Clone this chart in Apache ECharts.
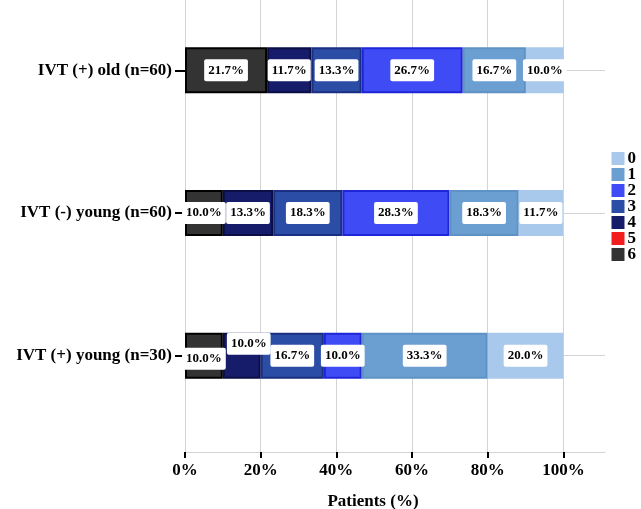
<!DOCTYPE html>
<html>
<head>
<meta charset="utf-8">
<script src="https://cdn.jsdelivr.net/npm/echarts@6/dist/echarts.min.js"></script>
<style>
	html, body { margin: 0; padding: 0; background: #fff; }
	#main { width: 641px; height: 509px; }
</style>
</head>
<body>
<div id="main"></div>
<script>
// categories from bottom to top (category axis draws first item at the bottom)
const groups = ['IVT (+) young (n=30)', 'IVT (-) young (n=60)', 'IVT (+) old (n=60)']
const levels = ['0', '1', '2', '3', '4', '5', '6']
const xTicks = [0, 20, 40, 60, 80, 100]

// percent of patients per score, same order as groups
const score6 = [10.0, 10.0, 21.7]
const score5 = [0, 0, 0]
const score4 = [10.0, 13.3, 11.7]
const score3 = [16.7, 18.3, 13.3]
const score2 = [10.0, 28.3, 26.7]
const score1 = [33.3, 18.3, 16.7]
const score0 = [20.0, 11.7, 10.0]

const fill = {
	'0': '#a9c9ec',
	'1': '#6c9fd1',
	'2': '#3f4cf6',
	'3': '#2c4da6',
	'4': '#161c6a',
	'5': '#f21d1d',
	'6': '#333333'
}
const edge = {
	'0': '#a9c9ec',
	'1': '#5f92c4',
	'2': '#1f26d8',
	'3': '#1b2f82',
	'4': '#0a0e45',
	'5': '#c01010',
	'6': '#000000'
}

const serif = 'Liberation Serif'

function makeSeries(name, values) {
	return {
		name: name,
		type: 'bar',
		stack: 'total',
		barWidth: 46,
		xAxisIndex: 0,
		yAxisIndex: 0,
		itemStyle: {
			color: fill[name],
			borderColor: edge[name],
			borderWidth: name === '5' ? 0 : 2
		},
		label: {
			show: name !== '5',
			position: 'inside',
			formatter: function (p) {
				return p.value ? p.value.toFixed(1) + '%' : ''
			},
			color: '#000',
			fontFamily: serif,
			fontWeight: 'bold',
			fontSize: 13,
			backgroundColor: '#fff',
			borderRadius: 2,
			padding: [5, 4, 4, 4]
		},
		data: values.slice()
	}
}

const series = [
	makeSeries('6', score6),
	makeSeries('5', score5),
	makeSeries('4', score4),
	makeSeries('3', score3),
	makeSeries('2', score2),
	makeSeries('1', score1),
	makeSeries('0', score0)
]
// small label in (+) young row sits a bit higher, as in the figure
series[2].data[0] = { value: score4[0], label: { offset: [7, -12] } }
series[0].data[0] = { value: score6[0], label: { offset: [0, 3] } }

const chart = echarts.init(document.getElementById('main'), null, { renderer: 'canvas' })

const option = {
	animation: false,
	backgroundColor: '#fff',
	legend: {
		data: levels,
		orient: 'vertical',
		right: 0,
		top: 145,
		itemWidth: 13,
		itemHeight: 13,
		itemGap: -1,
		icon: 'rect',
		itemStyle: { borderWidth: 0 },
		textStyle: {
			fontFamily: serif,
			fontWeight: 'bold',
			fontSize: 17,
			color: '#000',
			padding: [0, 0, 0, -2]
		}
	},
	grid: [{
		left: 185,
		right: 36,
		top: -1,
		height: 428,
		outerBoundsMode: 'none'
	}, {
		left: 185,
		right: 36,
		top: 0,
		bottom: 57,
		outerBoundsMode: 'none'
	}],
	xAxis: [{
		type: 'value',
		gridIndex: 0,
		min: 0,
		max: 111,
		show: false
	}, {
		type: 'value',
		gridIndex: 1,
		min: 0,
		max: 111,
		name: 'Patients (%)',
		nameLocation: 'middle',
		nameGap: 41,
		nameTextStyle: {
			fontFamily: serif,
			fontWeight: 'bold',
			fontSize: 17,
			color: '#000',
			padding: [0, 44, 0, 0]
		},
		axisLine: {
			lineStyle: { color: '#d4d4d4', width: 1 }
		},
		axisTick: {
			show: true,
			length: 6,
			customValues: xTicks,
			lineStyle: { color: '#000', width: 2 }
		},
		axisLabel: {
			customValues: xTicks,
			formatter: '{value}%',
			margin: 10,
			fontFamily: serif,
			fontWeight: 'bold',
			fontSize: 17,
			color: '#000'
		},
		splitLine: {
			show: true,
			lineStyle: { color: '#d4d4d4', width: 1 }
		}
	}],
	yAxis: [{
		type: 'category',
		gridIndex: 0,
		data: groups,
		axisLine: { show: false },
		axisTick: {
			show: true,
			alignWithLabel: true,
			length: 10,
			lineStyle: { color: '#000', width: 2 }
		},
		axisLabel: {
			margin: 13,
			fontFamily: serif,
			fontWeight: 'bold',
			fontSize: 17,
			color: '#000'
		},
		splitLine: {
			show: true,
			alignWithLabel: true,
			lineStyle: { color: '#d4d4d4', width: 1 }
		}
	}, {
		type: 'value',
		gridIndex: 1,
		min: 0,
		max: 1,
		show: false
	}],
	series: series
}

chart.setOption(option)
</script>
</body>
</html>
